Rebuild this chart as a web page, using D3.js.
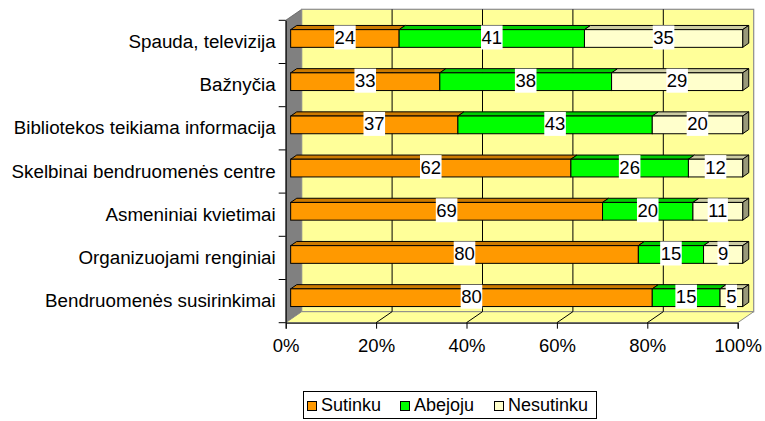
<!DOCTYPE html>
<html><head><meta charset="utf-8">
<script src="https://cdn.jsdelivr.net/npm/d3@7"></script>
<style>body{margin:0;background:#fff}svg{display:block}text{font-family:Arial,"Liberation Sans",sans-serif}</style>
</head><body><svg id="c" width="765" height="421"></svg>
<script>
const categories = ["Spauda, televizija","Bažnyčia","Bibliotekos teikiama informacija","Skelbinai bendruomenės centre","Asmeniniai kvietimai","Organizuojami renginiai","Bendruomenės susirinkimai"];
const seriesNames = ["Sutinku","Abejoju","Nesutinku"];
const sutinku   = [24,33,37,62,69,80,80];
const abejoju   = [41,38,43,26,20,15,15];
const nesutinku = [35,29,20,12,11,9,5];
const tickValues = [0,0.2,0.4,0.6,0.8,1];
const colors = ["#FF9900","#00FF00","#FFFFCC"];

const svg = d3.select("#c");
const X0=285.7, X1=737.7, YT=20.3, YB=322.7, DX=16, DY=-11;
const x = d3.scaleLinear().domain([0,1]).range([X0,X1]);
const y = d3.scaleBand().domain(categories).range([YT,YB]).padding(0);
const step = y.bandwidth();
const barH = step*0.41;
const dF=0.31, dB=0.69; // bar depth fractions

const ptsStr = p => p.map(q=>q.join(",")).join(" ");
// left wall
svg.append("polygon").attr("points",ptsStr([[X0,YT],[X0+DX,YT+DY],[X0+DX,YB+DY],[X0,YB]]))
  .attr("fill","#808080").attr("stroke","#606060").attr("stroke-width",0.8);
// back wall
svg.append("rect").attr("x",X0+DX).attr("y",YT+DY).attr("width",X1-X0).attr("height",YB-YT)
  .attr("fill","#FFFF99").attr("stroke","#8C8C8C").attr("stroke-width",1.2);
// floor
svg.append("polygon").attr("points",ptsStr([[X0,YB],[X0+DX,YB+DY],[X1+DX,YB+DY],[X1,YB]]))
  .attr("fill","#FFFF99").attr("stroke","#8C8C8C").attr("stroke-width",1);
// gridlines
tickValues.slice(1,-1).forEach(t=>{
  svg.append("line").attr("x1",x(t)+DX).attr("x2",x(t)+DX).attr("y1",YT+DY).attr("y2",YB+DY).attr("stroke","#000").attr("stroke-width",1);
  svg.append("line").attr("x1",x(t)).attr("x2",x(t)+DX).attr("y1",YB).attr("y2",YB+DY).attr("stroke","#000").attr("stroke-width",1);
});

const data = categories.map((c,i)=>{
  const v=[sutinku[i],abejoju[i],nesutinku[i]]; const s=d3.sum(v);
  let acc=0; return v.map((val,k)=>{const a=acc/s; acc+=val; return {cat:c,k,val,a,b:acc/s};});
});
const shade=(c,f)=>{const r=d3.rgb(c);return d3.rgb(r.r*f,r.g*f,r.b*f).formatHex();};
const g = svg.append("g");
data.forEach(row=>{
  row.forEach((s,idx)=>{
    const cy = y(s.cat)+step/2;
    const yt = cy-barH/2, yb=cy+barH/2;
    const fx=DX*dF, fy=DY*dF, bx=DX*dB, by=DY*dB;
    const xa=x(s.a)+fx, xb=x(s.b)+fx;
    const ya=yt+fy, ybb=yb+fy;
    const ddx=bx-fx, ddy=by-fy;
    g.append("polygon").attr("points",ptsStr([[xa,ya],[xa+ddx,ya+ddy],[xb+ddx,ya+ddy],[xb,ya]]))
      .attr("fill",shade(colors[s.k],0.8)).attr("stroke","#000").attr("stroke-width",1).attr("stroke-linejoin","round");
    if(idx===row.length-1){
      g.append("polygon").attr("points",ptsStr([[xb,ya],[xb+ddx,ya+ddy],[xb+ddx,ybb+ddy],[xb,ybb]]))
        .attr("fill",shade(colors[s.k],0.6)).attr("stroke","#000").attr("stroke-width",1).attr("stroke-linejoin","round");
    }
    g.append("rect").attr("x",xa).attr("y",ya).attr("width",xb-xa).attr("height",ybb-ya)
      .attr("fill",colors[s.k]).attr("stroke","#000").attr("stroke-width",1);
  });
});
// value labels
data.forEach(row=>row.forEach(s=>{
  const cy = y(s.cat)+step/2 + DY*dF - 1;
  const cx = (x(s.a)+x(s.b))/2 + DX*dF;
  const t = svg.append("text").attr("x",cx).attr("y",cy+6.5).attr("text-anchor","middle").attr("font-size",18.5).attr("fill","#000").text(s.val);
  const w = t.node().getComputedTextLength();
  svg.insert("rect","text").attr("x",cx-w/2-0.5).attr("y",cy-12).attr("width",w+1).attr("height",24).attr("fill","#fff");
}));
// axes
const xAxis = d3.axisBottom(x).tickValues(tickValues).tickFormat(d3.format(".0%")).tickSize(6).tickPadding(5);
const gx = svg.append("g").attr("transform",`translate(0,${YB})`).call(xAxis);
gx.select(".domain").attr("stroke","#000");
gx.selectAll("text").attr("font-size",18.5).attr("font-family","Arial,'Liberation Sans',sans-serif").attr("fill","#000").attr("dy","1em");
const yAxis = d3.axisLeft(y).tickSize(0).tickPadding(10);
const gy = svg.append("g").attr("transform",`translate(${X0},0)`).call(yAxis);
gy.select(".domain").attr("stroke","#000");
gy.selectAll("text").attr("font-size",18.8).attr("font-family","Arial,'Liberation Sans',sans-serif").attr("fill","#000");
// category boundary ticks
const bounds = categories.map(c=>y(c)).concat([YB]);
svg.append("g").selectAll("line").data(bounds).join("line")
  .attr("x1",X0-7).attr("x2",X0).attr("y1",d=>d).attr("y2",d=>d).attr("stroke","#000");
// legend
const lg = svg.append("g");
lg.append("rect").attr("x",303.5).attr("y",391.5).attr("width",293).attr("height",27).attr("fill","#fff").attr("stroke","#000");
const lx=[307,400,494];
seriesNames.forEach((n,i)=>{
  lg.append("rect").attr("x",lx[i]+0.5).attr("y",401.5).attr("width",9).attr("height",9).attr("fill",colors[i]).attr("stroke","#000");
  lg.append("text").attr("x",lx[i]+14).attr("y",411).attr("font-size",18).attr("fill","#000").text(n);
});
</script></body></html>
